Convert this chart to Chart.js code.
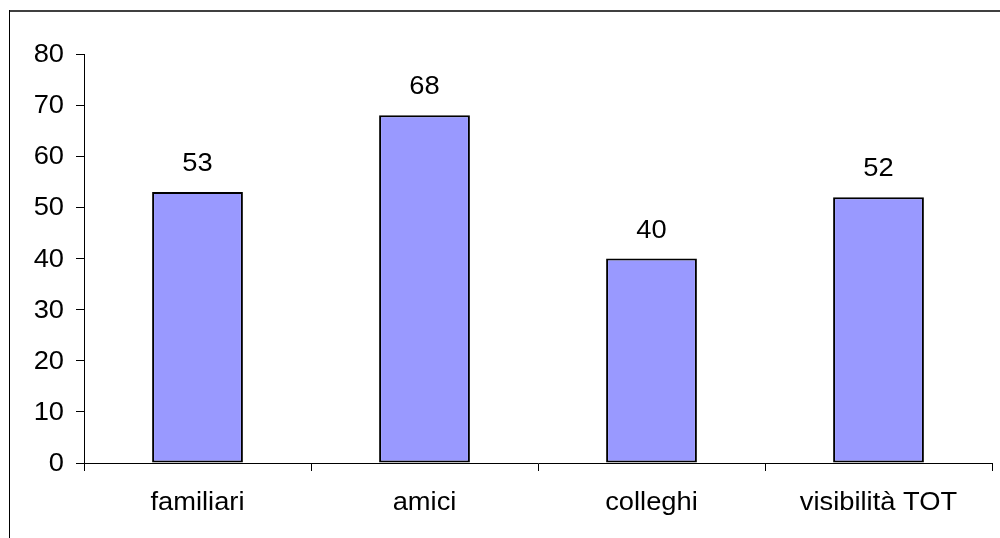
<!DOCTYPE html>
<html>
<head>
<meta charset="utf-8">
<script src="https://cdn.jsdelivr.net/npm/chart.js@4/dist/chart.umd.min.js"></script>
<style>
  html, body { margin: 0; padding: 0; background: #ffffff; }
  #wrap { width: 1000px; height: 538px; position: relative; }
</style>
</head>
<body>
<div id="wrap"><canvas id="c" width="1000" height="538"></canvas></div>
<script>
// Categorie e valori (percentuali)
const categories = ['familiari', 'amici', 'colleghi', 'visibilità TOT'];
const values = [53, 68, 40, 52];
const yTicks = [0, 10, 20, 30, 40, 50, 60, 70, 80];

const FONT = '"Liberation Sans", Arial, sans-serif';
const FONT_SIZE = 26;
const STRETCH = 1.05; // testo leggermente allargato in orizzontale

// Scrive un testo allargato orizzontalmente
function wideText(ctx, text, x, y, align) {
  ctx.save();
  ctx.translate(x, y);
  ctx.scale(STRETCH, 1);
  ctx.textAlign = align;
  ctx.fillText(text, 0, 0);
  ctx.restore();
}

// Cornice del grafico (bordo superiore e sinistro)
const framePlugin = {
  id: 'frame',
  beforeDraw(chart) {
    const ctx = chart.ctx;
    ctx.save();
    ctx.fillStyle = '#ffffff';
    ctx.fillRect(0, 0, chart.width, chart.height);
    ctx.strokeStyle = '#404040';
    ctx.lineWidth = 2;
    ctx.beginPath();
    ctx.moveTo(9, 11);
    ctx.lineTo(chart.width, 11);
    ctx.stroke();
    ctx.strokeStyle = '#000000';
    ctx.lineWidth = 1;
    ctx.beginPath();
    ctx.moveTo(9.5, 10);
    ctx.lineTo(9.5, chart.height);
    ctx.stroke();
    ctx.restore();
  }
};

// Etichette degli assi e dei valori sopra le barre
const labelsPlugin = {
  id: 'labels',
  afterDraw(chart) {
    const ctx = chart.ctx;
    const xs = chart.scales.x;
    const ys = chart.scales.y;
    const meta = chart.getDatasetMeta(0);
    ctx.save();
    ctx.font = FONT_SIZE + 'px ' + FONT;
    ctx.fillStyle = '#000000';
    ctx.textBaseline = 'alphabetic';

    // asse Y
    yTicks.forEach(v => {
      wideText(ctx, String(v), ys.left + 64, ys.getPixelForValue(v) + 8, 'right');
    });

    // asse X
    categories.forEach((c, i) => {
      wideText(ctx, c, xs.getPixelForValue(i), 510, 'center');
    });

    // valori
    meta.data.forEach((bar, i) => {
      wideText(ctx, String(values[i]), bar.x, bar.y - 21, 'center');
    });
    ctx.restore();
  }
};

new Chart(document.getElementById('c'), {
  type: 'bar',
  data: {
    labels: categories,
    datasets: [{
      data: values,
      backgroundColor: '#9999ff',
      borderColor: '#000000',
      borderWidth: 2,
      borderSkipped: false,
      categoryPercentage: 0.4,
      barPercentage: 1.0
    }]
  },
  options: {
    responsive: false,
    animation: false,
    devicePixelRatio: 1,
    layout: { padding: { top: 54, right: 8, bottom: 0, left: 0 } },
    plugins: {
      legend: { display: false },
      tooltip: { enabled: false }
    },
    scales: {
      x: {
        afterFit(scale) { scale.height = 75; },
        grid: {
          offset: true,
          drawOnChartArea: false,
          drawTicks: true,
          tickLength: 8,
          color: '#000000',
          lineWidth: 1
        },
        border: { display: true, color: '#000000', width: 1 },
        ticks: { display: false }
      },
      y: {
        min: 0,
        max: 80,
        afterFit(scale) { scale.width = 84; },
        afterBuildTicks(scale) { scale.ticks = yTicks.map(v => ({ value: v })); },
        grid: {
          drawOnChartArea: false,
          drawTicks: true,
          tickLength: 8,
          color: '#000000',
          lineWidth: 1
        },
        border: { display: true, color: '#000000', width: 1 },
        ticks: { display: false }
      }
    }
  },
  plugins: [framePlugin, labelsPlugin]
});
</script>
</body>
</html>
